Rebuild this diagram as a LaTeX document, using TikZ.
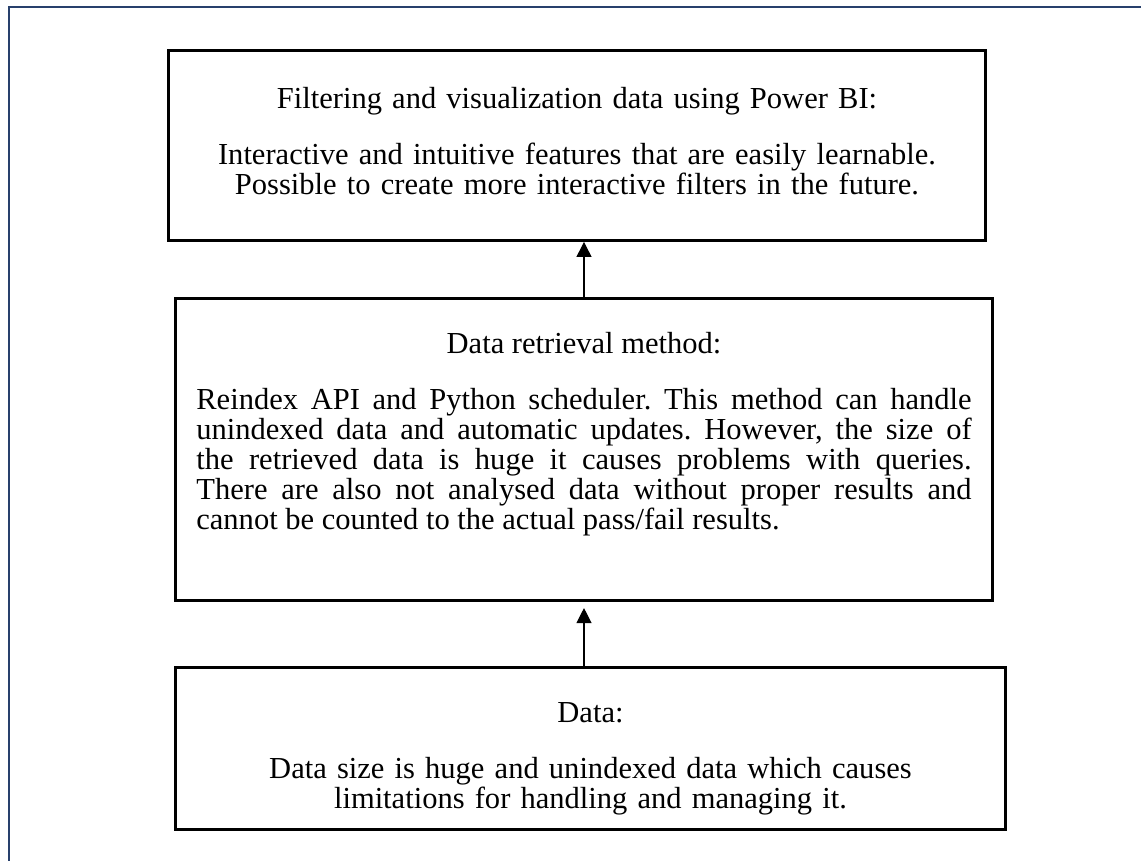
\documentclass[tikz,border=0pt]{standalone}
\usepackage{fontspec}
\setmainfont{Liberation Serif}
\usetikzlibrary{positioning}
\usetikzlibrary{arrows.meta}
\definecolor{framecol}{RGB}{40,64,108}
\setlength{\parindent}{0pt}
\frenchspacing
\newcommand{\lift}[1]{\par\nointerlineskip\vspace{#1}\null}

\begin{document}
\begin{tikzpicture}
				[x=0.38pt, y=-0.38pt,
				stage/.style={rectangle, draw=black, line width=1pt, inner xsep=8pt, inner ysep=0pt,
					font=\fontsize{11.6pt}{11.4pt}\selectfont},
				flow/.style={draw=black, line width=0.45pt, -{Triangle[width=5.7pt,length=5.7pt]}}]
				\useasboundingbox (0,0) rectangle (1141,861);
				\draw[framecol, line width=1pt] (9,861) -- (9,7) -- (1141,7);
				\node[stage, text width=294.6pt, minimum height=72.3pt, align=center] (visual) at (577,145.5)
					{Filtering and visualization data using Power BI:\\[9.9pt]
					Interactive and intuitive features that are easily learnable.\\
					Possible to create more interactive filters in the future.\lift{3pt}};
				\node[stage, text width=294.6pt, minimum height=114.9pt, align=justify] (retrieval) at (584,449.5)
					{{\centering Data retrieval method:\par}\vspace{9.9pt}
					Reindex API and Python scheduler. This method can handle\linebreak
					unindexed data and automatic updates. However, the size of\linebreak
					the retrieved data is huge it causes problems with queries.\linebreak
					There are also not analysed data without proper results and\linebreak
					cannot be counted to the actual pass/fail results.\lift{11.4pt}};
				\node[stage, text width=299.5pt, minimum height=61.7pt, align=center] (source) at (590.5,748.5)
					{Data:\\[9.9pt]
					Data size is huge and unindexed data which causes\\
					limitations for handling and managing it.\lift{-7.6pt}};
				\draw[flow] (retrieval.north) -- (retrieval.north |- visual.south);
				\draw[flow, shorten >=2.3pt] (retrieval.south |- source.north) -- (retrieval.south);
			\end{tikzpicture}
\end{document}
